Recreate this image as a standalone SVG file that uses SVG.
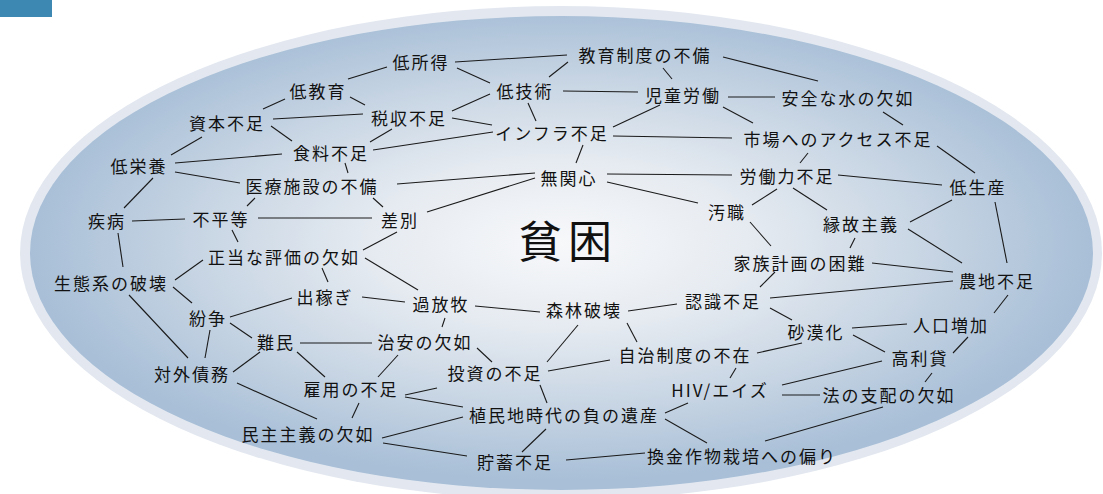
<svg xmlns="http://www.w3.org/2000/svg" width="1103" height="494" viewBox="0 0 1103 494">
<defs>
<radialGradient id="bg" cx="0.5" cy="0.48" r="0.5" fx="0.5" fy="0.48">
<stop offset="0" stop-color="#f7f8fa"/>
<stop offset="0.35" stop-color="#e6ebf1"/>
<stop offset="0.7" stop-color="#c6d4e3"/>
<stop offset="1" stop-color="#a8bfd7"/>
</radialGradient>
<style>
.n text{font-family:"Noto Sans CJK JP","Noto Sans",sans-serif;font-size:17px;letter-spacing:2px;fill:#111;text-anchor:middle}
#edges line{stroke:#1a1a1a;stroke-width:1.1}
</style>
</defs>
<rect x="0" y="0" width="52" height="17" fill="#3d87b3"/>
<ellipse cx="561" cy="253" rx="541" ry="247" fill="#e3e8f0"/>
<ellipse cx="561.5" cy="253" rx="531.5" ry="237" fill="url(#bg)"/>
<text x="568" y="258" font-family="Noto Sans CJK JP,sans-serif" font-size="44" letter-spacing="6" text-anchor="middle" fill="#111">貧困</text>
<g id="edges">
<line x1="285" y1="99" x2="263" y2="109"/>
<line x1="348" y1="79" x2="387" y2="67"/>
<line x1="350" y1="97" x2="365" y2="105"/>
<line x1="273" y1="119" x2="363" y2="114"/>
<line x1="271" y1="126" x2="292" y2="141"/>
<line x1="202" y1="137" x2="171" y2="155"/>
<line x1="175" y1="163" x2="282" y2="154"/>
<line x1="370" y1="142" x2="392" y2="129"/>
<line x1="373" y1="150" x2="493" y2="132"/>
<line x1="345" y1="163" x2="348" y2="173"/>
<line x1="455" y1="62" x2="567" y2="55"/>
<line x1="457" y1="68" x2="490" y2="83"/>
<line x1="568" y1="62" x2="549" y2="77"/>
<line x1="663" y1="68" x2="672" y2="79"/>
<line x1="723" y1="57" x2="818" y2="81"/>
<line x1="563" y1="91" x2="638" y2="92"/>
<line x1="490" y1="94" x2="452" y2="111"/>
<line x1="528" y1="103" x2="536" y2="121"/>
<line x1="452" y1="118" x2="492" y2="125"/>
<line x1="660" y1="105" x2="613" y2="127"/>
<line x1="728" y1="97" x2="775" y2="97"/>
<line x1="723" y1="107" x2="753" y2="123"/>
<line x1="613" y1="136" x2="732" y2="138"/>
<line x1="583" y1="145" x2="576" y2="163"/>
<line x1="535" y1="173" x2="397" y2="184"/>
<line x1="607" y1="174" x2="732" y2="175"/>
<line x1="607" y1="182" x2="698" y2="203"/>
<line x1="535" y1="178" x2="427" y2="212"/>
<line x1="883" y1="112" x2="903" y2="125"/>
<line x1="937" y1="146" x2="975" y2="173"/>
<line x1="808" y1="153" x2="800" y2="163"/>
<line x1="838" y1="175" x2="942" y2="185"/>
<line x1="777" y1="189" x2="752" y2="205"/>
<line x1="793" y1="188" x2="827" y2="210"/>
<line x1="952" y1="200" x2="910" y2="222"/>
<line x1="995" y1="202" x2="1007" y2="263"/>
<line x1="750" y1="222" x2="771" y2="246"/>
<line x1="855" y1="238" x2="850" y2="248"/>
<line x1="908" y1="229" x2="962" y2="263"/>
<line x1="872" y1="263" x2="953" y2="272"/>
<line x1="770" y1="298" x2="953" y2="281"/>
<line x1="1008" y1="295" x2="994" y2="313"/>
<line x1="852" y1="328" x2="907" y2="324"/>
<line x1="968" y1="337" x2="953" y2="353"/>
<line x1="853" y1="335" x2="885" y2="352"/>
<line x1="782" y1="385" x2="882" y2="361"/>
<line x1="932" y1="373" x2="925" y2="382"/>
<line x1="765" y1="441" x2="883" y2="407"/>
<line x1="782" y1="395" x2="820" y2="395"/>
<line x1="175" y1="172" x2="240" y2="183"/>
<line x1="153" y1="178" x2="124" y2="208"/>
<line x1="255" y1="198" x2="247" y2="206"/>
<line x1="132" y1="221" x2="185" y2="219"/>
<line x1="258" y1="218" x2="372" y2="218"/>
<line x1="232" y1="230" x2="238" y2="242"/>
<line x1="118" y1="233" x2="123" y2="267"/>
<line x1="203" y1="260" x2="175" y2="280"/>
<line x1="322" y1="268" x2="328" y2="282"/>
<line x1="363" y1="250" x2="397" y2="232"/>
<line x1="365" y1="258" x2="418" y2="290"/>
<line x1="173" y1="287" x2="192" y2="303"/>
<line x1="129" y1="295" x2="188" y2="358"/>
<line x1="292" y1="298" x2="230" y2="317"/>
<line x1="362" y1="297" x2="405" y2="302"/>
<line x1="373" y1="198" x2="383" y2="207"/>
<line x1="230" y1="323" x2="252" y2="338"/>
<line x1="210" y1="330" x2="205" y2="358"/>
<line x1="300" y1="343" x2="372" y2="343"/>
<line x1="260" y1="352" x2="233" y2="372"/>
<line x1="297" y1="352" x2="325" y2="377"/>
<line x1="398" y1="355" x2="378" y2="377"/>
<line x1="445" y1="318" x2="442" y2="327"/>
<line x1="405" y1="395" x2="437" y2="388"/>
<line x1="405" y1="397" x2="463" y2="407"/>
<line x1="359" y1="403" x2="352" y2="418"/>
<line x1="237" y1="383" x2="317" y2="419"/>
<line x1="382" y1="438" x2="463" y2="417"/>
<line x1="383" y1="443" x2="467" y2="456"/>
<line x1="475" y1="306" x2="540" y2="312"/>
<line x1="628" y1="311" x2="677" y2="304"/>
<line x1="578" y1="325" x2="547" y2="362"/>
<line x1="627" y1="323" x2="637" y2="342"/>
<line x1="477" y1="348" x2="492" y2="362"/>
<line x1="548" y1="371" x2="610" y2="360"/>
<line x1="540" y1="385" x2="547" y2="403"/>
<line x1="770" y1="308" x2="792" y2="320"/>
<line x1="757" y1="353" x2="802" y2="343"/>
<line x1="736" y1="368" x2="730" y2="378"/>
<line x1="665" y1="413" x2="688" y2="403"/>
<line x1="665" y1="419" x2="707" y2="443"/>
<line x1="546" y1="429" x2="522" y2="452"/>
<line x1="566" y1="460" x2="645" y2="453"/>
<line x1="775" y1="272" x2="760" y2="287"/>
</g>
<g id="n1" class="n"><text x="645" y="62">教育制度の不備</text></g>
<g id="n2" class="n"><text x="421" y="69">低所得</text></g>
<g id="n3" class="n"><text x="318" y="98">低教育</text></g>
<g id="n4" class="n"><text x="525" y="98">低技術</text></g>
<g id="n5" class="n"><text x="683" y="102">児童労働</text></g>
<g id="n6" class="n"><text x="848" y="105">安全な水の欠如</text></g>
<g id="n7" class="n"><text x="409" y="125">税収不足</text></g>
<g id="n8" class="n"><text x="227" y="130">資本不足</text></g>
<g id="n9" class="n"><text x="552" y="140">インフラ不足</text></g>
<g id="n10" class="n"><text x="838" y="146">市場へのアクセス不足</text></g>
<g id="n11" class="n"><text x="331" y="160">食料不足</text></g>
<g id="n12" class="n"><text x="139" y="173">低栄養</text></g>
<g id="n13" class="n"><text x="569" y="185">無関心</text></g>
<g id="n14" class="n"><text x="787" y="183">労働力不足</text></g>
<g id="n15" class="n"><text x="978" y="194">低生産</text></g>
<g id="n16" class="n"><text x="312" y="193">医療施設の不備</text></g>
<g id="n17" class="n"><text x="727" y="219">汚職</text></g>
<g id="n18" class="n"><text x="861" y="231">縁故主義</text></g>
<g id="n19" class="n"><text x="107" y="228">疾病</text></g>
<g id="n20" class="n"><text x="221" y="226">不平等</text></g>
<g id="n21" class="n"><text x="400" y="227">差別</text></g>
<g id="n22" class="n"><text x="800" y="270">家族計画の困難</text></g>
<g id="n23" class="n"><text x="284" y="264">正当な評価の欠如</text></g>
<g id="n24" class="n"><text x="997" y="288">農地不足</text></g>
<g id="n25" class="n"><text x="111" y="290">生態系の破壊</text></g>
<g id="n26" class="n"><text x="325" y="304">出稼ぎ</text></g>
<g id="n27" class="n"><text x="441" y="311">過放牧</text></g>
<g id="n28" class="n"><text x="584" y="317">森林破壊</text></g>
<g id="n29" class="n"><text x="723" y="308">認識不足</text></g>
<g id="n30" class="n"><text x="208" y="325">紛争</text></g>
<g id="n31" class="n"><text x="816" y="339">砂漠化</text></g>
<g id="n32" class="n"><text x="951" y="332">人口増加</text></g>
<g id="n33" class="n"><text x="276" y="349">難民</text></g>
<g id="n34" class="n"><text x="425" y="349">治安の欠如</text></g>
<g id="n35" class="n"><text x="685" y="362">自治制度の不在</text></g>
<g id="n36" class="n"><text x="920" y="365">高利貸</text></g>
<g id="n37" class="n"><text x="495" y="380">投資の不足</text></g>
<g id="n38" class="n"><text x="192" y="381">対外債務</text></g>
<g id="n39" class="n"><text x="351" y="396">雇用の不足</text></g>
<g id="n40" class="n"><text x="720" y="397">HIV/エイズ</text></g>
<g id="n41" class="n"><text x="889" y="402">法の支配の欠如</text></g>
<g id="n42" class="n"><text x="564" y="422">植民地時代の負の遺産</text></g>
<g id="n43" class="n"><text x="308" y="441">民主主義の欠如</text></g>
<g id="n44" class="n"><text x="515" y="469">貯蓄不足</text></g>
<g id="n45" class="n"><text x="742" y="463">換金作物栽培への偏り</text></g>
</svg>
